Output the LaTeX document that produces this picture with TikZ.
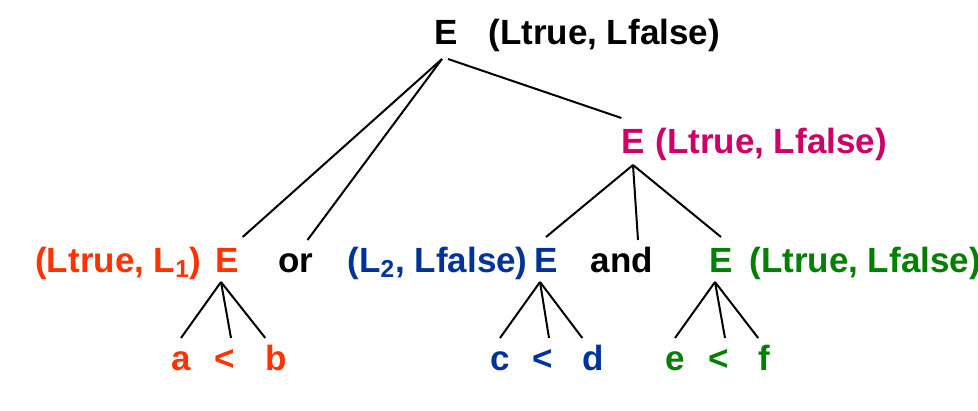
\documentclass[tikz,border=0pt]{standalone}
\usepackage{fontspec}
\setmainfont{Liberation Sans}
\definecolor{attrred}{HTML}{FF3300}
\definecolor{attrblue}{HTML}{003399}
\definecolor{attrgreen}{HTML}{008000}
\definecolor{attrmag}{HTML}{CC0066}

\begin{document}
\begin{tikzpicture}[
      x=0.5pt, y=-0.5pt,
      font=\fontsize{17.5}{21}\selectfont\bfseries,
      sym/.style={inner sep=0pt, text height=12.5pt, text depth=0pt,
        anchor=base, outer xsep=0pt, outer ysep=3.5pt},
      nterm/.style={sym, outer ysep=5pt},
      attrL/.style={inner sep=0pt, anchor=base west},
      attrR/.style={inner sep=0pt, anchor=base east},
      link/.style={line width=1pt}
    ]
    \useasboundingbox (0,0) rectangle (978,411);

    % root
    \node[nterm, outer ysep=7pt] (eTop) at (446,45) {E};
    \node[attrL] (aTop) at (488,45) {(Ltrue, Lfalse)};

    % right E
    \node[nterm, outer ysep=5.5pt, text=attrmag] (eR) at (633,154) {E};
    \node[attrL, text=attrmag] (aR) at (655,154) {(Ltrue, Lfalse)};

    % middle row
    \node[attrR, text=attrred] (aL) at (202,272) {(Ltrue, L\textsubscript{1})};
    \node[nterm, text=attrred] (eL) at (227,272) {E};
    \node[sym] (orK) at (296,272) {or};
    \node[attrR, text=attrblue] (aM) at (528,272) {(L\textsubscript{2}, Lfalse)};
    \node[nterm, text=attrblue] (eM) at (546,272) {E};
    \node[sym] (andK) at (622,272) {and};
    \node[nterm, text=attrgreen] (eG) at (721,272) {E};
    \node[attrL, text=attrgreen] (aG) at (749,272) {(Ltrue, Lfalse)};

    % leaves
    \node[sym, text=attrred] (a) at (181,370) {a};
    \node[sym, text=attrred] (lt1) at (225,370) {<};
    \node[sym, text=attrred] (b) at (276,370) {b};
    \node[sym, text=attrblue] (c) at (500,370) {c};
    \node[sym, text=attrblue] (lt2) at (543,370) {<};
    \node[sym, text=attrblue] (d) at (593,370) {d};
    \node[sym, text=attrgreen] (e) at (675,370) {e};
    \node[sym, text=attrgreen] (lt3) at (719,370) {<};
    \node[sym, text=attrgreen] (f) at (764,370) {f};

    \draw[link] ([xshift=-2pt]eTop.south) -- ([xshift=2pt]eL.north east);
    \draw[link] ([xshift=-2pt]eTop.south) -- ([xshift=-3pt]orK.north east);
    \draw[link] ([xshift=1pt]eTop.south) -- (eR.north west);

    \draw[link] (eR.south) -- (eM.north);
    \draw[link] (eR.south) -- ([xshift=8pt]andK.north);
    \draw[link] (eR.south) -- (eG.north);

    \foreach \p/\l/\m/\r in {eL/a/lt1/b, eM/c/lt2/d, eG/e/lt3/f} {
      \draw[link] ([xshift=-3pt]\p.south) -- (\l.north);
      \draw[link] ([xshift=-3pt]\p.south) -- ([xshift=3pt]\m.north);
      \draw[link] ([xshift=-3pt]\p.south) -- (\r.north west);
    }
  \end{tikzpicture}
\end{document}
